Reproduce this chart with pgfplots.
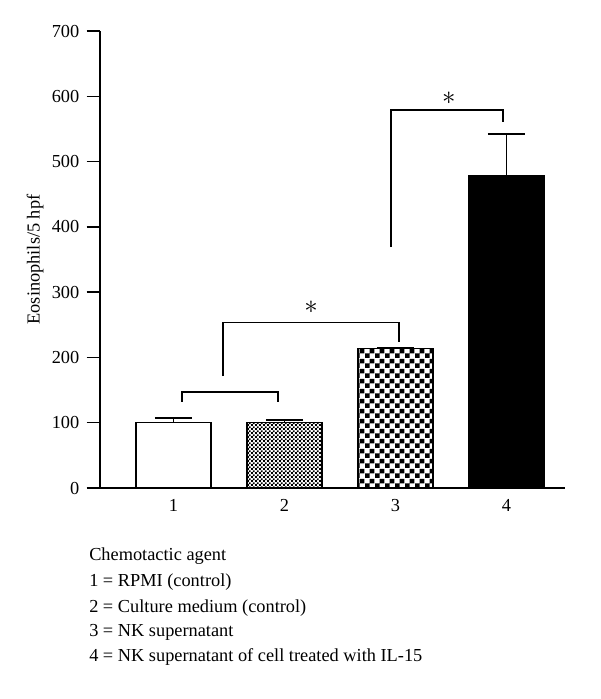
\documentclass[border=0pt]{standalone}
\usepackage{fontspec}
\setmainfont{Liberation Serif}
\usepackage{pgfplots}
\pgfplotsset{compat=1.18}
\usetikzlibrary{patterns}
\pgfdeclarepatternformonly{bigcheck}{\pgfpointorigin}{\pgfpoint{7.2pt}{7.2pt}}{\pgfpoint{7.2pt}{7.2pt}}{%
  \pgfpathrectangle{\pgfpointorigin}{\pgfpoint{3.6pt}{3.6pt}}%
  \pgfpathrectangle{\pgfpoint{3.6pt}{3.6pt}}{\pgfpoint{3.6pt}{3.6pt}}%
  \pgfusepath{fill}}
\pgfdeclarepatternformonly{smallcheck}{\pgfpointorigin}{\pgfpoint{3.2pt}{3.2pt}}{\pgfpoint{3.2pt}{3.2pt}}{%
  \pgfpathrectangle{\pgfpointorigin}{\pgfpoint{1.6pt}{1.6pt}}%
  \pgfpathrectangle{\pgfpoint{1.6pt}{1.6pt}}{\pgfpoint{1.6pt}{1.6pt}}%
  \pgfusepath{fill}}
\begin{document}
\begin{tikzpicture}
\path[use as bounding box] (-75pt,-158.25pt) rectangle (375pt,366pt);
\begin{axis}[
  at={(0,0)}, anchor=south west,
  scale only axis,
  width=348.75pt, height=342.75pt,
  xmin=0.338, xmax=4.527,
  ymin=0, ymax=700,
  axis x line=bottom, axis y line=left,
  axis line style={-, line width=1pt},
  ytick={0,100,...,700},
  xtick={1,2,3,4},
  x tick style={draw=none},
  y tick style={line width=1pt, black},
  tick align=outside,
  major tick length=10pt,
  ybar, bar width=56.25pt,
  font=\fontsize{13.75}{16}\selectfont,
  /pgf/number format/assume math mode=true,
  xticklabel style={yshift=5pt},
  yticklabel style={xshift=-2pt},
  ylabel={Eosinophils/5 hpf},
  every axis y label/.style={at={(axis description cs:0,0.5)}, xshift=-48.75pt, rotate=90, anchor=center},
  clip=false,
  error bars/y dir=plus, error bars/y explicit,
  error bars/error bar style={line width=1pt, black},
  error bars/error mark options={line width=1pt, black, mark size=13.9pt, rotate=90},
]
\addplot[bar shift=0pt, draw=black, line width=0.8pt, fill=white] coordinates {(1,100) +- (0,7)};
\addplot[bar shift=0pt, draw=black, line width=0.8pt, pattern=smallcheck] coordinates {(2,101) +- (0,3)};
\addplot[bar shift=0pt, draw=black, line width=0.8pt, pattern=bigcheck] coordinates {(3,213) +- (0,2)};
\addplot[bar shift=0pt, draw=black, line width=0.8pt, fill=black] coordinates {(4,478) +- (0,64)};
% brackets
\draw[line width=1pt] (axis cs:1.077,132) -- (axis cs:1.077,147) -- (axis cs:1.941,147) -- (axis cs:1.941,132);
\draw[line width=1pt] (axis cs:1.446,171.5) -- (axis cs:1.446,254) -- (axis cs:3.032,254) -- (axis cs:3.032,224);
\draw[line width=1pt] (axis cs:2.96,369) -- (axis cs:2.96,579) -- (axis cs:3.968,579) -- (axis cs:3.968,560.6);
\node[anchor=center, inner sep=0pt, scale=1.4] at (axis cs:2.239,277) {$\ast$};
\node[anchor=center, inner sep=0pt, scale=1.4] at (axis cs:3.48,597) {$\ast$};
\end{axis}
\begin{scope}[every node/.style={anchor=base west, inner sep=0pt, font=\fontsize{13.75}{16}\selectfont}]
\node at (-8.25pt,-54.5pt) {Chemotactic agent};
\node at (-8.25pt,-74pt) {1 = RPMI (control)};
\node at (-8.25pt,-93pt) {2 = Culture medium (control)};
\node at (-8.25pt,-111.5pt) {3 = NK supernatant};
\node at (-8.25pt,-130.3pt) {4 = NK supernatant of cell treated with IL-15};
\end{scope}
\end{tikzpicture}
\end{document}
